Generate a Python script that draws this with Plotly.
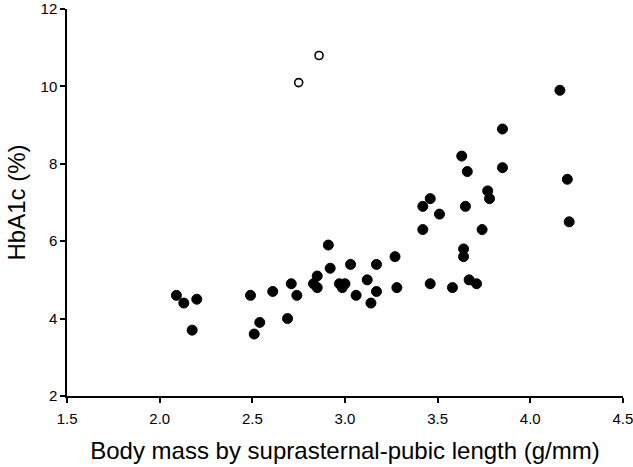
import plotly.graph_objects as go

# Filled points: body mass by suprasternal-pubic length (g/mm) vs HbA1c (%)
filled_x = [4.16, 3.85, 3.63, 3.66, 3.85, 4.20, 3.77, 3.78, 3.46, 3.42, 3.65, 3.51, 4.21,
            3.42, 3.74, 3.64, 3.64, 3.27, 3.03, 3.17, 3.12, 3.67, 3.71, 3.46, 3.58, 3.28,
            3.17, 3.06, 3.14, 2.91, 2.92, 2.85, 2.83, 2.85, 2.71, 2.74, 2.61, 2.49, 2.97,
            3.00, 2.985, 2.09, 2.13, 2.20, 2.175, 2.54, 2.51, 2.69]
filled_y = [9.9, 8.9, 8.2, 7.8, 7.9, 7.6, 7.3, 7.1, 7.1, 6.9, 6.9, 6.7, 6.5,
            6.3, 6.3, 5.8, 5.6, 5.6, 5.4, 5.4, 5.0, 5.0, 4.9, 4.9, 4.8, 4.8,
            4.7, 4.6, 4.4, 5.9, 5.3, 5.1, 4.9, 4.8, 4.9, 4.6, 4.7, 4.6, 4.9,
            4.9, 4.8, 4.6, 4.4, 4.5, 3.7, 3.9, 3.6, 4.0]

# Open points (outliers)
open_x = [2.75, 2.86]
open_y = [10.1, 10.8]

x_ticks = [1.5, 2.0, 2.5, 3.0, 3.5, 4.0, 4.5]
y_ticks = [2, 4, 6, 8, 10, 12]

fig = go.Figure()
fig.add_trace(go.Scatter(
    x=filled_x, y=filled_y, mode="markers",
    marker=dict(size=10, color="black", line=dict(color="black", width=1)),
    showlegend=False, cliponaxis=False))
fig.add_trace(go.Scatter(
    x=open_x, y=open_y, mode="markers",
    marker=dict(size=8, color="white", line=dict(color="black", width=1.6)),
    showlegend=False, cliponaxis=False))

font = "Liberation Sans, Arial, sans-serif"
fig.update_layout(
    width=633, height=467,
    margin=dict(l=67, r=10, t=9, b=71),
    paper_bgcolor="white", plot_bgcolor="white",
    font=dict(family=font, color="black"),
    xaxis=dict(
        range=[1.4995, 4.5005], tickvals=x_ticks, ticktext=[f"{v:.1f}" for v in x_ticks],
        showgrid=False, zeroline=False, showline=True, linecolor="black", linewidth=1.5,
        ticks="outside", ticklen=5, tickwidth=1.5, tickcolor="black",
        ticklabelstandoff=3, ticklabeloverflow="allow",
        tickfont=dict(size=15, family=font, color="black"),
        title=dict(text="Body mass by suprasternal-pubic length (g/mm)",
                   font=dict(size=24, family=font, color="black"), standoff=16),
        automargin=False),
    yaxis=dict(
        range=[1.998, 12.002], tickvals=y_ticks,
        showgrid=False, zeroline=False, showline=True, linecolor="black", linewidth=1.5,
        ticks="outside", ticklen=5, tickwidth=1.5, tickcolor="black",
        ticklabeloverflow="allow",
        tickfont=dict(size=15, family=font, color="black"),
        title=dict(text="HbA1c (%)", font=dict(size=24, family=font, color="black"), standoff=8),
        automargin=False),
)

fig.write_html("out.html")
